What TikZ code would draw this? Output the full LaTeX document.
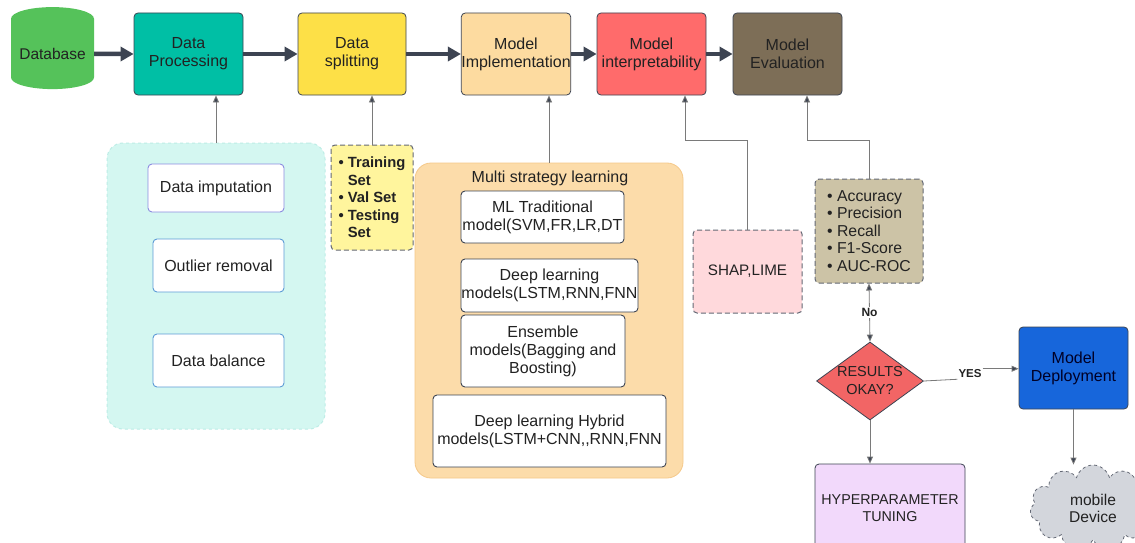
\documentclass[tikz,border=0pt]{standalone}
\usepackage{fontspec}
\setmainfont{Liberation Sans}
\usetikzlibrary{arrows.meta,shapes.geometric,shapes.symbols}
\definecolor{cdb}{HTML}{55C25A}
\definecolor{cdp}{HTML}{00BFA5}
\definecolor{cds}{HTML}{FDE047}
\definecolor{cmi}{HTML}{FDDBA0}
\definecolor{cmint}{HTML}{FF6B6B}
\definecolor{cme}{HTML}{7D6E57}
\definecolor{clp}{HTML}{D4F7F1}
\definecolor{clpb}{HTML}{BDEDE6}
\definecolor{ctr}{HTML}{FFF59D}
\definecolor{cmp}{HTML}{FCDCAA}
\definecolor{cmpb}{HTML}{F5C98A}
\definecolor{cshap}{HTML}{FFD9DC}
\definecolor{cmet}{HTML}{CCC3A6}
\definecolor{cdia}{HTML}{F26565}
\definecolor{cdep}{HTML}{1766DB}
\definecolor{chyp}{HTML}{F2D9FB}
\definecolor{ccloud}{HTML}{D3D6DC}
\definecolor{cedge}{HTML}{3D4452}
\definecolor{cthin}{HTML}{7A7A7A}
\definecolor{ctext}{HTML}{222222}
\definecolor{cpurp}{HTML}{8C8CE0}
\definecolor{cblue}{HTML}{5C9BD6}
\begin{document}
\begin{tikzpicture}[x=1pt,y=-1pt,
  every node/.style={text=ctext,font=\fontsize{16}{18}\selectfont,align=center},
  mainbox/.style={rectangle,rounded corners=4pt,draw=cedge,line width=0.8pt,minimum width=109pt,minimum height=82pt,inner sep=0pt},
  innerbox/.style={rectangle,rounded corners=4pt,fill=white,line width=0.9pt,inner sep=0pt,font=\fontsize{16}{18}\selectfont},
  dashbox/.style={rectangle,rounded corners=4pt,draw=cedge!80,dashed,dash pattern=on 5pt off 3pt,line width=1pt,inner sep=0pt},
  thick arrow/.style={draw=cedge,line width=4.5pt,-{Triangle[length=13pt,width=14pt]}},
  thin arrow/.style={draw=cthin,line width=0.8pt,-{Triangle[length=7pt,width=6pt,fill=cedge]}},
  thin line/.style={draw=cthin,line width=0.8pt},
  edge label/.style={fill=white,inner sep=1pt,font=\bfseries\fontsize{12}{14}\selectfont}
]
\useasboundingbox (0,0) rectangle (1135,543);
\fill[white] (0,0) rectangle (1135,543);

% top row
\node[cylinder,shape border rotate=90,aspect=0.35,fill=cdb,draw=none,minimum width=83pt,minimum height=82pt,inner sep=0pt,font=\fontsize{15.5}{18}\selectfont] (db) at (52.5,54) {Database};
\node[mainbox,fill=cdp] (dp) at (188.5,54) {Data\\Processing};
\node[mainbox,fill=cds,minimum width=108pt] (ds) at (352,54) {Data\\splitting};
\node[mainbox,fill=cmi] (mi) at (516,54) {Model\\Implementation};
\node[mainbox,fill=cmint] (mint) at (651.5,54) {Model\\interpretability};
\node[mainbox,fill=cme] (me) at (787.5,54) {Model\\Evaluation};

\draw[thick arrow] (db.east) -- (dp.west);
\draw[thick arrow] (dp.east) -- (ds.west);
\draw[thick arrow] (ds.east) -- (mi.west);
\draw[thick arrow] (mi.east) -- (mint.west);
\draw[thick arrow] (mint.east) -- (me.west);

% left panel
\node[rectangle,rounded corners=16pt,fill=clp,draw=clpb,dashed,line width=1pt,minimum width=218pt,minimum height=286pt,inner sep=0pt] (lp) at (216,286) {};
\node[innerbox,draw=cpurp,minimum width=136pt,minimum height=48pt] (imp) at (216,188) {Data imputation};
\node[innerbox,draw=cblue,minimum width=131pt,minimum height=53pt] (out) at (218.5,265.5) {Outlier removal};
\node[innerbox,draw=cblue,minimum width=131pt,minimum height=53pt] (bal) at (218.5,360.5) {Data balance};
\draw[thin arrow] (lp.north) -- (lp.north |- dp.south);

% training
\node[dashbox,fill=ctr,minimum width=82pt,minimum height=105pt,font=\bfseries\fontsize{14.8}{17.5}\selectfont,align=left] (tr) at (372,197.5)
 {\textbullet\ Training\\\phantom{\textbullet\ }Set\\\textbullet\ Val Set\\\textbullet\ Testing\\\phantom{\textbullet\ }Set};
\draw[thin arrow] (tr.north) -- (tr.north |- ds.south);

% multi strategy panel
\node[rectangle,rounded corners=16pt,fill=cmp,draw=cmpb,line width=0.8pt,minimum width=268pt,minimum height=315pt,inner sep=0pt] (mp) at (549,320.5) {};
\node (mpt) at (550,178) {Multi strategy learning};
\node[innerbox,draw=cedge,minimum width=163pt,minimum height=52pt] (ml) at (542.5,217) {ML Traditional\\model(SVM,FR,LR,DT};
\node[innerbox,draw=cedge,minimum width=177pt,minimum height=53pt] (dl) at (549.5,285.5) {Deep learning\\models(LSTM,RNN,FNN};
\node[innerbox,draw=cedge,minimum width=164pt,minimum height=72pt] (ens) at (543,351) {Ensemble\\models(Bagging and\\Boosting)};
\node[innerbox,draw=cedge,minimum width=233pt,minimum height=72pt] (hyb) at (549.5,431) {Deep learning Hybrid\\models(LSTM+CNN,{},RNN,FNN};
\draw[thin arrow] (mp.north) -- (mp.north |- mi.south);

% SHAP
\node[dashbox,fill=cshap,minimum width=109pt,minimum height=83pt,font=\fontsize{15.2}{18}\selectfont] (shap) at (747.5,271.5) {SHAP,LIME};
\coordinate (c1) at (685,140);
\draw[thin line] (shap.north) |- (c1);
\draw[thin arrow] (c1) -- (c1 |- mint.south);

% metrics
\node[dashbox,fill=cmet,minimum width=108pt,minimum height=104pt,align=left,font=\fontsize{15.8}{17.5}\selectfont] (met) at (869,231)
 {\textbullet\ Accuracy\\\textbullet\ Precision\\\textbullet\ Recall\\\textbullet\ F1-Score\\\textbullet\ AUC-ROC};
\coordinate (c2) at (807,140);
\draw[thin line] (met.north) |- (c2);
\draw[thin arrow] (c2) -- (c2 |- me.south);

% decision
\node[diamond,fill=cdia,draw=cedge,line width=0.8pt,minimum width=107pt,minimum height=78pt,inner sep=0pt,aspect=1.4,font=\fontsize{14.5}{18}\selectfont] (dia) at (870,381) {RESULTS\\OKAY?};
\draw[draw=cthin,line width=0.8pt,{Triangle[length=7pt,width=6pt,fill=cedge]}-{Triangle[length=7pt,width=6pt,fill=cedge]}] (dia.north) -- node[edge label] (no) {No} (met.south);

\node[rectangle,rounded corners=4pt,fill=cdep,draw=cedge,line width=0.8pt,minimum width=109pt,minimum height=82pt,inner sep=0pt,text=black!85!blue] (dep) at (1073.5,368) {Model\\Deployment};
\node[inner sep=1pt,font=\bfseries\fontsize{11.5}{13}\selectfont] (yes) at (970,374) {YES};
\draw[thin line] (dia.east) -- (yes.south west);
\draw[thin arrow] (yes.north east) -- (yes.north east -| dep.west);

\node[rectangle,rounded corners=4pt,fill=chyp,draw=cedge,line width=0.8pt,minimum width=150pt,minimum height=88pt,inner sep=0pt,font=\fontsize{14.3}{17}\selectfont] (hyp) at (890,508) {HYPERPARAMETER\\TUNING};
\draw[thin arrow] (dia.south) -- (dia.south |- hyp.north);

\node[cloud,cloud puffs=11,aspect=1.45,fill=ccloud,draw=cedge!80,dashed,line width=0.8pt,minimum width=126pt,minimum height=86pt,inner sep=0pt,font=\fontsize{15.6}{17}\selectfont] (cl) at (1093,508) {mobile\\Device};
\draw[thin arrow] (dep.south) -- (dep.south |- cl.north);
\end{tikzpicture}
\end{document}
